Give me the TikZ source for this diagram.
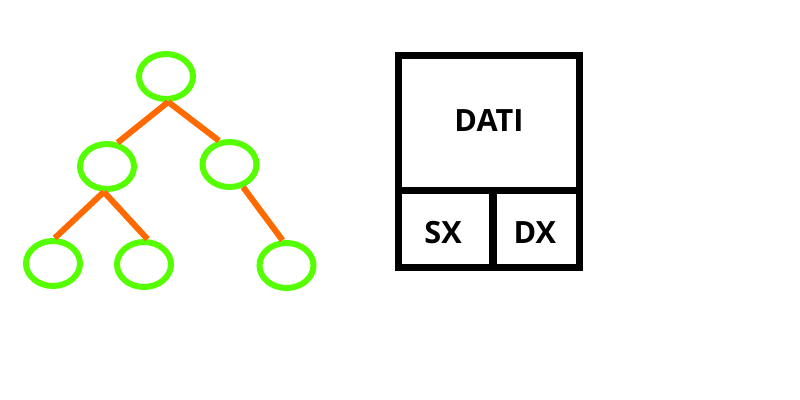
\documentclass[tikz,border=0pt]{standalone}
\usepackage{fontspec}
\setmainfont{Open Sans}
\usetikzlibrary{shapes.geometric}
\definecolor{nodegreen}{HTML}{55FF00}
\definecolor{edgeorange}{HTML}{FF6A00}
\begin{document}
\begin{tikzpicture}[x=0.75pt,y=-0.75pt,
  tnode/.style={ellipse,draw=nodegreen,line width=4.5pt,minimum width=40.5pt,minimum height=33.75pt,inner sep=0pt,fill=white},
  tedge/.style={draw=edgeorange,line width=4.5pt},
  cell/.style={rectangle,draw=black,line width=5.25pt,inner sep=0pt,font=\bfseries\fontsize{23}{26}\selectfont}]
\useasboundingbox (0,0) rectangle (800,400);
% tree nodes
\node[tnode] (r)  at (166,76.5) {};
\node[tnode] (ml) at (107,166.5) {};
\node[tnode] (mr) at (229.5,164.5) {};
\node[tnode] (bl) at (53,263.5) {};
\node[tnode] (bm) at (144,264.5) {};
\node[tnode] (br) at (286.5,265.5) {};
% edges
\draw[tedge] (r.-85) -- (ml.66);
\draw[tedge] (r.-85) -- (mr.114);
\draw[tedge] (ml.-97) -- (bl.86);
\draw[tedge] (ml.-97) -- (bm.82);
\draw[tedge] (mr.-59) -- (br.99);
% record box
\node[cell,minimum width=135.75pt,minimum height=101.6pt] (dati) at (489,123.25) {};
\node[cell,minimum width=70.9pt,minimum height=57.4pt] (sx) at (445.75,229.25) {};
\node[cell,minimum width=64.9pt,minimum height=57.4pt] (dx) at (536.25,229.25) {};
\node[font=\bfseries\fontsize{23}{26}\selectfont] (tdati) at (dati.center) [yshift=2.3pt] {DATI};
\node[font=\bfseries\fontsize{23}{26}\selectfont] (tsx) at (sx.center) [xshift=-2pt,yshift=-2.3pt] {SX};
\node[font=\bfseries\fontsize{23}{26}\selectfont] (tdx) at (dx.center) [xshift=-1pt,yshift=-2.3pt] {DX};
\end{tikzpicture}
\end{document}
